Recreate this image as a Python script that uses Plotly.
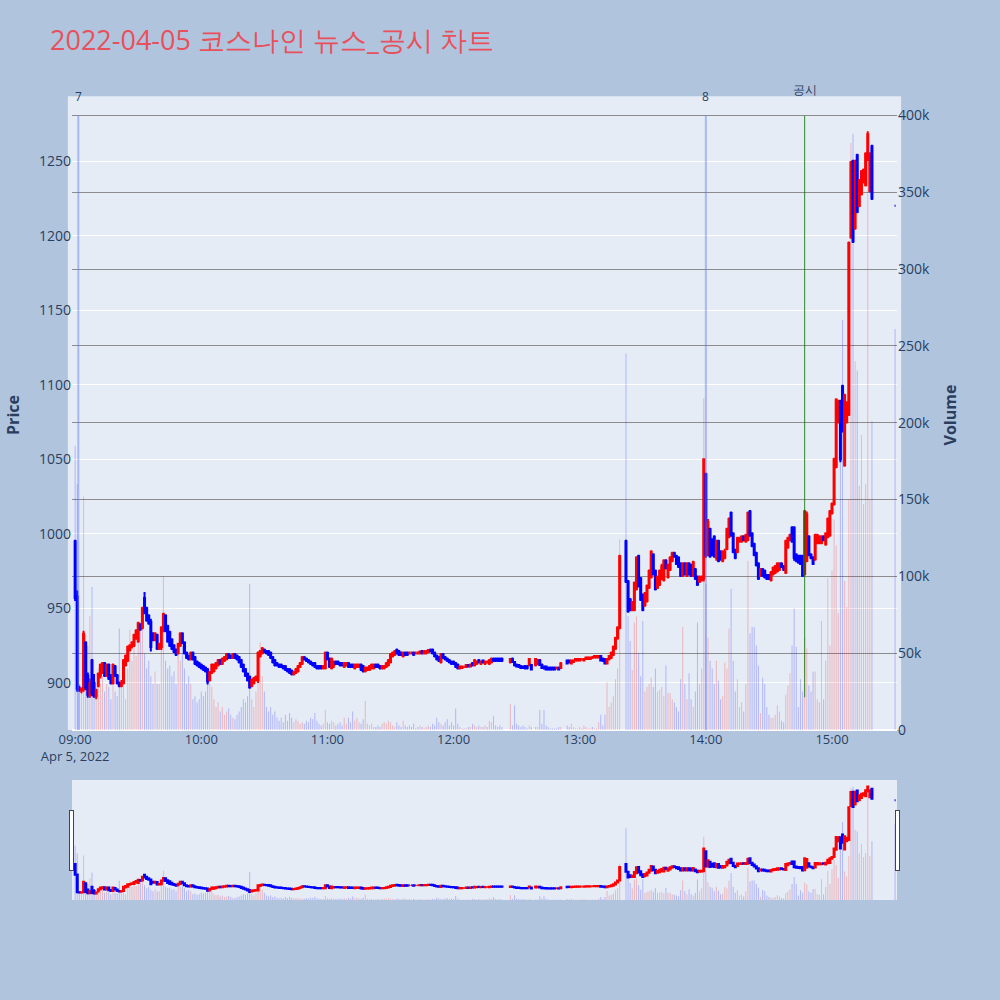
import plotly.graph_objects as go
import pandas as pd

# ---- minute candles 09:00 .. 15:19 (None = no trade / VI halt) ----
open_ = [
    995, 958, 896, 895, 896, 927, 905, 892, 915, 900,
    891, 898, 905, 910, 913, 905, 912, 904, 900, 911,
    905, 900, 898, 900, 912, 915, 922, 925, 925, 930,
    928, 939, 937, 957, 950, 945, 941, 933, 929, 932,
    923, 924, 936, 945, 938, 934, 929, 925, 922, 920,
    925, 933, 927, 920, 918, 916, 920, 917, 914, 913,
    912, 911, 910, 909, 902, 907, 908, 910, 912, 915,
    913, 915, 916, 919, 918, 917, 919, 918, 917, 915,
    912, 909, 906, 904, 898, 900, 902, 902, 918, 920,
    922, 921, 921, 920, 917, 915, 913, 912, 912, 911,
    911, 909, 909, 908, 906, 907, 908, 911, 913, 917,
    916, 915, 914, 913, 913, 911, 911, 911, 910, 910,
    920, 916, 910, 912, 914, 914, 913, 913, 911, 912,
    913, 912, 912, 910, 911, 911, 912, 911, 908, 909,
    909, 910, 910, 912, 912, 911, 910, 910, 911, 912,
    914, 918, 919, 922, 921, 920, 918, 920, 920, 920,
    920, 920, 920, 920, 920, 921, 920, 920, 921, 922,
    922, 920, 918, 917, 914, 919, 917, 916, 915, 914,
    914, 913, 912, 910, 910, 911, 911, 912, 911, 913,
    912, 913, 915, 913, 915, 913, 914, 913, 914, 916,
    916, 916, 916, 916, None, None, None, 914, 916, 914,
    912, 912, 911, 911, 911, 911, 912, 912, None, 912,
    913, 915, 912, 911, 911, 910, 910, 910, 910, 910,
    910, 910, None, None, 915, 915, 913, 914, 915, 915,
    915, 916, 915, 916, 916, 916, 917, 917, 917, 917,
    918, 916, 916, 913, 916, 917, 919, 923, 930, 937,
    None, None, 995, 968, 956, 949, 949, 963, 985, 970,
    959, 952, 955, 964, 971, 986, 975, 964, 966, 970,
    969, 982, 971, 976, 982, 987, 985, 984, 980, 972,
    980, 972, 980, 979, 972, 976, 971, 968, 969, 970,
    1040, 986, 1003, 996, 998, 984, 995, 988, 982, 984,
    990, 998, 1014, 1000, 989, 988, 995, 995, 998, 995,
    996, 1015, 1000, 993, 987, 980, 972, 976, 975, 972,
    972, 969, 973, 974, 975, 976, 980, 978, 974, 991,
    996, 1004, 1004, 986, 985, 985, 985, 973, 982, 998,
    986, 984, 983, 994, 994, 994, 998, 993, 998, 999,
    1014, 1020, 1045, 1075, 1089, 1099, 1046, 1075, 1080, 1199,
    1250, 1205, 1254, 1220, 1228, 1236, 1234, 1251, 1230, 1260,
]
high = [
    996, 962, 898, 897, 935, 928, 907, 903, 916, 906,
    896, 907, 913, 914, 914, 913, 913, 906, 913, 912,
    906, 901, 902, 916, 919, 925, 926, 928, 933, 936,
    941, 940, 951, 961, 951, 946, 943, 934, 934, 933,
    927, 938, 947, 946, 939, 935, 930, 926, 923, 927,
    934, 934, 928, 921, 919, 921, 921, 918, 915, 914,
    913, 912, 911, 910, 908, 913, 913, 914, 916, 916,
    917, 918, 920, 920, 919, 920, 920, 919, 918, 916,
    913, 910, 907, 905, 903, 904, 905, 921, 922, 924,
    923, 922, 922, 921, 918, 916, 914, 913, 913, 912,
    912, 910, 910, 909, 908, 910, 912, 914, 918, 918,
    917, 916, 915, 914, 914, 912, 912, 912, 912, 921,
    921, 917, 917, 915, 915, 915, 914, 914, 914, 914,
    914, 913, 913, 913, 913, 913, 913, 912, 911, 911,
    912, 913, 913, 913, 913, 912, 912, 912, 914, 916,
    920, 921, 922, 923, 922, 921, 921, 921, 921, 921,
    921, 921, 921, 921, 921, 922, 922, 922, 922, 923,
    923, 921, 919, 918, 920, 920, 918, 917, 916, 915,
    915, 914, 913, 911, 911, 911, 912, 912, 913, 914,
    916, 915, 916, 915, 915, 915, 915, 916, 917, 917,
    917, 917, 917, 917, None, None, None, 916, 917, 914,
    913, 912, 912, 911, 912, 912, 916, 912, None, 916,
    916, 916, 913, 911, 911, 911, 911, 911, 911, 911,
    911, 914, None, None, 915, 915, 915, 915, 916, 916,
    916, 916, 916, 917, 917, 917, 918, 918, 918, 918,
    918, 917, 916, 916, 918, 921, 925, 931, 938, 986,
    None, None, 996, 969, 957, 955, 968, 985, 986, 971,
    960, 961, 966, 976, 989, 987, 976, 972, 976, 980,
    983, 983, 980, 985, 988, 988, 986, 985, 981, 981,
    981, 981, 981, 980, 982, 977, 972, 972, 972, 1050,
    1041, 1010, 1004, 997, 999, 996, 996, 989, 989, 990,
    1004, 1011, 1015, 1001, 990, 998, 998, 999, 999, 1000,
    1015, 1016, 1001, 994, 988, 981, 977, 977, 976, 973,
    973, 975, 978, 979, 981, 981, 981, 979, 996, 998,
    1000, 1005, 1005, 987, 986, 986, 986, 1016, 1015, 999,
    987, 985, 1000, 1000, 999, 999, 999, 1001, 1011, 1016,
    1021, 1051, 1091, 1090, 1090, 1100, 1094, 1089, 1196, 1250,
    1251, 1251, 1255, 1238, 1244, 1245, 1256, 1270, 1256, 1261,
]
low = [
    955, 894, 894, 893, 894, 895, 890, 890, 891, 890,
    889, 897, 903, 906, 904, 904, 902, 899, 899, 904,
    899, 897, 897, 899, 911, 914, 921, 923, 924, 929,
    927, 935, 936, 946, 941, 939, 921, 928, 928, 922,
    922, 922, 934, 934, 927, 924, 922, 920, 918, 919,
    924, 926, 919, 916, 915, 915, 915, 912, 911, 910,
    909, 908, 907, 899, 901, 906, 907, 909, 911, 912,
    912, 914, 915, 916, 916, 916, 916, 915, 913, 910,
    907, 904, 901, 896, 897, 899, 901, 900, 917, 919,
    920, 919, 918, 916, 913, 911, 911, 910, 910, 909,
    908, 907, 906, 905, 905, 906, 907, 910, 912, 915,
    914, 913, 912, 911, 910, 909, 909, 909, 909, 909,
    915, 910, 909, 910, 912, 912, 911, 911, 910, 911,
    910, 910, 910, 909, 910, 910, 908, 907, 907, 908,
    908, 909, 909, 910, 910, 909, 909, 909, 910, 911,
    913, 917, 918, 919, 918, 918, 917, 918, 918, 919,
    919, 918, 919, 919, 919, 919, 919, 919, 920, 921,
    919, 917, 915, 914, 913, 916, 915, 914, 913, 912,
    912, 910, 909, 909, 910, 910, 910, 911, 911, 911,
    911, 912, 913, 912, 913, 912, 913, 912, 913, 914,
    914, 914, 914, 914, None, None, None, 913, 914, 911,
    911, 910, 910, 910, 909, 909, 911, 909, None, 911,
    912, 912, 910, 909, 909, 909, 909, 909, 909, 909,
    909, 910, None, None, 913, 913, 913, 914, 915, 915,
    915, 915, 915, 916, 916, 916, 916, 917, 917, 917,
    915, 914, 913, 913, 915, 916, 918, 922, 929, 936,
    None, None, 967, 947, 948, 948, 948, 962, 964, 955,
    948, 951, 954, 963, 970, 972, 962, 963, 965, 969,
    968, 976, 970, 975, 981, 984, 979, 977, 971, 971,
    972, 971, 972, 971, 971, 969, 965, 967, 968, 968,
    984, 985, 984, 985, 984, 982, 981, 982, 981, 983,
    989, 997, 998, 987, 983, 987, 994, 994, 995, 994,
    995, 998, 991, 985, 978, 969, 971, 971, 970, 969,
    969, 968, 972, 973, 974, 975, 977, 975, 973, 990,
    995, 994, 982, 981, 980, 979, 971, 972, 981, 985,
    983, 979, 982, 993, 993, 993, 995, 992, 997, 998,
    1013, 1019, 1044, 1074, 1048, 1068, 1045, 1074, 1079, 1198,
    1195, 1204, 1215, 1219, 1227, 1235, 1233, 1250, 1229, 1224,
]
close = [
    957, 896, 895, 896, 933, 897, 892, 900, 893, 891,
    895, 906, 912, 913, 905, 912, 903, 900, 912, 905,
    900, 898, 900, 915, 918, 924, 925, 927, 932, 935,
    940, 936, 950, 948, 942, 940, 924, 929, 933, 923,
    926, 937, 946, 935, 928, 925, 923, 921, 919, 926,
    933, 927, 920, 917, 916, 920, 916, 913, 912, 911,
    910, 909, 908, 901, 907, 912, 912, 913, 915, 913,
    916, 917, 919, 917, 917, 919, 917, 916, 914, 911,
    908, 905, 902, 897, 902, 903, 904, 920, 921, 923,
    921, 920, 919, 917, 914, 912, 912, 911, 911, 910,
    909, 908, 907, 906, 907, 909, 911, 913, 917, 916,
    915, 914, 913, 912, 911, 910, 910, 910, 911, 920,
    916, 911, 916, 914, 913, 913, 912, 912, 913, 913,
    911, 911, 911, 912, 912, 912, 909, 908, 910, 910,
    911, 912, 912, 911, 911, 910, 911, 911, 913, 915,
    919, 920, 921, 920, 919, 919, 920, 919, 919, 920,
    920, 919, 920, 920, 921, 920, 921, 921, 922, 921,
    920, 918, 916, 915, 919, 917, 916, 915, 914, 913,
    913, 911, 910, 911, 911, 911, 912, 911, 912, 912,
    915, 914, 914, 914, 914, 914, 914, 915, 916, 915,
    915, 915, 915, 915, None, None, None, 916, 914, 912,
    911, 911, 910, 910, 910, 910, 916, 909, None, 916,
    915, 912, 910, 910, 909, 909, 909, 909, 909, 910,
    909, 913, None, None, 913, 914, 915, 915, 916, 916,
    916, 916, 916, 917, 917, 917, 917, 918, 918, 918,
    915, 915, 913, 916, 918, 920, 924, 930, 937, 985,
    None, None, 968, 948, 949, 954, 967, 984, 965, 956,
    949, 960, 965, 975, 988, 973, 963, 971, 975, 978,
    982, 977, 979, 984, 987, 985, 980, 978, 972, 980,
    973, 980, 973, 972, 981, 970, 966, 971, 971, 1050,
    986, 1008, 985, 986, 985, 995, 982, 983, 988, 988,
    1003, 1010, 999, 988, 984, 997, 997, 998, 996, 999,
    1014, 999, 992, 986, 979, 970, 976, 972, 971, 970,
    970, 974, 977, 978, 980, 980, 978, 976, 995, 997,
    999, 995, 984, 982, 981, 980, 972, 1015, 1013, 986,
    984, 980, 999, 999, 998, 997, 996, 1000, 1010, 1015,
    1020, 1050, 1090, 1089, 1050, 1070, 1093, 1088, 1195, 1249,
    1196, 1250, 1216, 1237, 1243, 1244, 1255, 1268, 1255, 1225,
]
volume = [  # shares
    185000, 160000, 30000, 25000, 152000, 62000, 55000, 74000, 93000, 35000,
    28000, 40000, 30000, 35000, 25000, 30000, 28000, 20000, 35000, 25000,
    22000, 66000, 30000, 30000, 20000, 40000, 65000, 45000, 55000, 48000,
    60000, 70000, 75000, 50000, 40000, 45000, 35000, 30000, 38000, 30000,
    30000, 60000, 100000, 45000, 40000, 42000, 35000, 38000, 30000, 50000,
    45000, 55000, 40000, 30000, 35000, 30000, 20000, 22000, 18000, 20000,
    25000, 22000, 25000, 38000, 30000, 28000, 20000, 15000, 18000, 12000,
    15000, 10000, 12000, 14000, 10000, 8000, 7000, 10000, 12000, 15000,
    20000, 18000, 22000, 95000, 20000, 15000, 25000, 45000, 57000, 35000,
    25000, 15000, 12000, 15000, 10000, 12000, 8000, 6000, 8000, 5000,
    10000, 6000, 11000, 8000, 5000, 7000, 6000, 4000, 5000, 4000,
    6000, 5000, 8000, 7000, 11000, 6000, 4000, 3000, 4000, 13000,
    5000, 4000, 6000, 5000, 3000, 4000, 5000, 3000, 8000, 4000,
    8000, 5000, 12000, 6000, 8000, 5000, 4000, 7000, 19000, 4000,
    3000, 4000, 2000, 2000, 3000, 2000, 4000, 5000, 4000, 6000,
    5000, 3000, 2000, 5000, 3000, 2000, 6000, 3000, 2000, 3000,
    2000, 4000, 1000, 2000, 3000, 2000, 1000, 2000, 3000, 2000,
    4000, 3000, 8000, 5000, 4000, 3000, 5000, 7000, 3000, 5000,
    3000, 14000, 4000, 2000, 1000, 1000, 1000, 2000, 2000, 4000,
    3000, 2000, 3000, 2000, 2000, 3000, 2000, 6000, 5000, 9000,
    3000, 2000, 3000, 2000, 0, 0, 0, 17000, 3000, 16000,
    4000, 3000, 2000, 3000, 2000, 1000, 3000, 2000, 0, 2000,
    2000, 13000, 4000, 13000, 3000, 2000, 1000, 1000, 1000, 1000,
    2000, 2000, 0, 0, 3000, 2000, 4000, 2000, 1000, 1000,
    2000, 1000, 3000, 2000, 1000, 1000, 2000, 1000, 1000, 5000,
    10000, 3000, 10000, 31000, 15000, 18000, 22000, 33000, 40000, 124000,
    0, 0, 245000, 74000, 58000, 39000, 70000, 74000, 50000, 35000,
    71000, 25000, 28000, 30000, 34000, 28000, 40000, 25000, 26000, 28000,
    22000, 42000, 24000, 24000, 20000, 18000, 15000, 12000, 33000, 67000,
    30000, 20000, 37000, 20000, 15000, 25000, 70000, 30000, 40000, 216000,
    95000, 60000, 45000, 40000, 30000, 45000, 32000, 20000, 22000, 44000,
    40000, 66000, 92000, 45000, 25000, 33000, 15000, 18000, 12000, 30000,
    110000, 63000, 67000, 67000, 55000, 42000, 11000, 34000, 30000, 15000,
    10000, 8000, 8000, 10000, 16000, 12000, 6000, 5000, 23000, 29000,
    37000, 55000, 79000, 54000, 15000, 33000, 25000, 60000, 53000, 29000,
    25000, 38000, 38000, 20000, 18000, 71000, 20000, 45000, 99000, 55000,
    104000, 137000, 120000, 76000, 200000, 267000, 97000, 80000, 150000, 382000,
    388000, 240000, 234000, 159000, 192000, 147000, 160000, 388000, 150000, 201000,
]
# closing single-price auction at 15:30
auction_open, auction_high, auction_low, auction_close, auction_volume = 1220, 1220, 1220, 1220, 261000

times = list(pd.date_range("2022-04-05 09:00", periods=len(open_), freq="min")) + [pd.Timestamp("2022-04-05 15:30")]
O = open_ + [auction_open]
H = high + [auction_high]
L = low + [auction_low]
C = close + [auction_close]
V = volume + [auction_volume]

vol_colors = ["rgba(255,0,0,0.22)" if (o is not None and c > o) else "rgba(0,0,255,0.22)" for o, c in zip(O, C)]

# news / disclosure markers
news_marks = [("2022-04-05 09:01:30", "7"), ("2022-04-05 14:00:00", "8")]
disclosure_time = "2022-04-05 14:47:00"

fig = go.Figure()
fig.add_trace(go.Bar(x=times, y=V, marker=dict(color=vol_colors, line=dict(width=0)),
                     yaxis="y2", name="Volume", showlegend=False))
fig.add_trace(go.Candlestick(x=times, open=O, high=H, low=L, close=C,
                             increasing=dict(line=dict(color="red", width=2), fillcolor="red"),
                             decreasing=dict(line=dict(color="blue", width=2), fillcolor="blue"),
                             name="Price", showlegend=False))

shapes = [dict(type="rect", xref="paper", yref="paper", x0=-0.005, x1=1.005, y0=0, y1=1.006,
               fillcolor="#E5ECF6", line=dict(width=0), layer="below")]
annotations = []
for t, label in news_marks:
    shapes.append(dict(type="line", xref="x", yref="paper", x0=t, x1=t, y0=0, y1=0.975,
                       line=dict(color="rgba(90,120,255,0.45)", width=2)))
    annotations.append(dict(x=t, y=1.005, xref="x", yref="paper", text=label, showarrow=False,
                            yanchor="middle", font=dict(size=12, color="#2a3f5f")))
shapes.append(dict(type="line", xref="x", yref="paper", x0=disclosure_time, x1=disclosure_time,
                   y0=0.052, y1=0.975, line=dict(color="rgba(0,110,0,0.8)", width=1)))
annotations.append(dict(x=disclosure_time, y=1.016, xref="x", yref="paper", text="공시", showarrow=False,
                        yanchor="middle", font=dict(size=12, color="#2a3f5f")))

x_range = ["2022-04-05 08:58:30", "2022-04-05 15:30:55"]
fig.update_layout(
    template="plotly",
    width=1000, height=1000,
    paper_bgcolor="#B0C4DE", plot_bgcolor="#E5ECF6",
    title=dict(text="2022-04-05 코스나인 뉴스_공시 차트", font=dict(size=27, color="#E8505B")),
    margin=dict(l=72, r=103, t=100, b=100),
    shapes=shapes, annotations=annotations,
    xaxis=dict(range=x_range, rangeslider=dict(visible=True, thickness=0.15, bgcolor="#E5ECF6",
                                               range=x_range),
               type="date", showgrid=False, dtick=3600000, tickfont=dict(size=13)),
    yaxis=dict(title=dict(text="<b>Price</b>", font=dict(size=16)), range=[868.4, 1291], showgrid=True,
               gridcolor="white", zeroline=False, tickfont=dict(size=14)),
    yaxis2=dict(title=dict(text="<b>Volume</b>", font=dict(size=16)), overlaying="y", side="right",
                range=[0, 410000], showgrid=True, gridcolor="#8c8c8c", zeroline=True,
                zerolinecolor="white", tickfont=dict(size=14)),
    bargap=0.5,
)
fig.write_html("out.html", config={"displayModeBar": False},
               post_script="document.body.style.margin='0px';")
